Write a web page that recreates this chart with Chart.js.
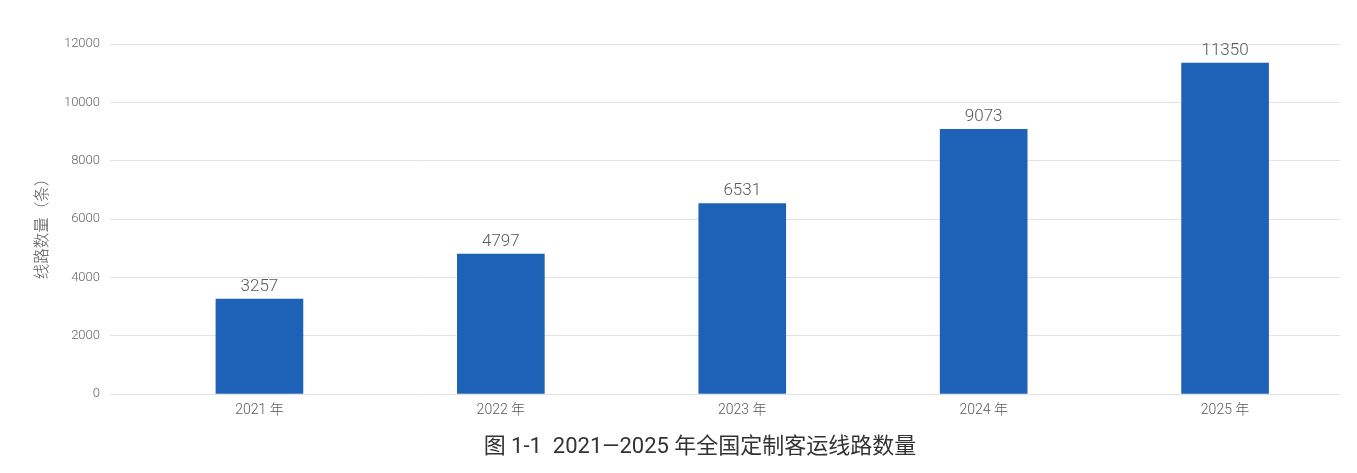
<!DOCTYPE html>
<html>
<head>
<meta charset="utf-8">
<script src="https://cdn.jsdelivr.net/npm/chart.js@4/dist/chart.umd.min.js"></script>
<style>
  html, body { margin: 0; padding: 0; background: #ffffff; }
  canvas { display: block; }
</style>
</head>
<body>
<canvas id="c" width="1357" height="473"></canvas>
<script>
const categories = ['2021 年', '2022 年', '2023 年', '2024 年', '2025 年'];
const routeCounts = [3257, 4797, 6531, 9073, 11350];
const yTickValues = [0, 2000, 4000, 6000, 8000, 10000, 12000];
const yAxisTitle = '线路数量（条）';
const chartTitle = '图 1-1  2021—2025 年全国定制客运线路数量';

const FONT = 'Roboto, "Noto Sans CJK SC", "Noto Sans", sans-serif';
const CJK = '"Noto Sans CJK SC", sans-serif';

const valueLabels = {
  id: 'valueLabels',
  afterDatasetsDraw(chart) {
    const ctx = chart.ctx;
    const meta = chart.getDatasetMeta(0);
    ctx.save();
    ctx.font = '300 17px ' + FONT;
    ctx.fillStyle = '#595959';
    ctx.textAlign = 'center';
    ctx.textBaseline = 'bottom';
    meta.data.forEach((bar, i) => {
      ctx.fillText(String(routeCounts[i]), bar.x, bar.y - 4);
    });
    ctx.restore();
  }
};

const texts = {
  id: 'texts',
  afterDraw(chart) {
    const ctx = chart.ctx;
    ctx.save();
    // bottom caption
    ctx.font = '400 22px ' + FONT;
    ctx.fillStyle = '#333333';
    ctx.textAlign = 'center';
    ctx.textBaseline = 'middle';
    ctx.fillText(chartTitle, 700, 447);
    // y-axis title
    ctx.translate(41, 225);
    ctx.rotate(-Math.PI / 2);
    ctx.font = '300 15.5px ' + CJK;
    ctx.fillStyle = '#595959';
    ctx.fillText(yAxisTitle, 0, 0);
    ctx.restore();
  }
};

new Chart(document.getElementById('c'), {
  type: 'bar',
  data: {
    datasets: [{
      data: routeCounts.map((v, i) => ({ x: i, y: v })),
      backgroundColor: '#1d62b6',
      borderWidth: 0,
      barThickness: 87
    }]
  },
  options: {
    responsive: false,
    animation: false,
    layout: { padding: { top: 44, right: 17, left: 0, bottom: 0 } },
    plugins: {
      legend: { display: false },
      tooltip: { enabled: false },
      title: { display: false }
    },
    scales: {
      x: {
        type: 'linear',
        offset: false,
        min: -0.619,
        max: 4.476,
        grid: { display: false, drawTicks: false },
        border: { display: false },
        afterFit(scale) { scale.height = 79; },
        afterBuildTicks(scale) {
          scale.ticks = categories.map((c, i) => ({ value: i }));
        },
        ticks: {
          autoSkip: false,
          maxRotation: 0,
          padding: 8,
          color: '#595959',
          font: { family: FONT, size: 14, weight: '300' },
          callback: (v) => categories[v] !== undefined ? categories[v] : ''
        }
      },
      y: {
        min: 0,
        max: 12000,
        afterFit(scale) { scale.width = 110; },
        afterBuildTicks(scale) {
          scale.ticks = yTickValues.map(v => ({ value: v }));
        },
        grid: { color: '#e2e2e2', lineWidth: 1, drawTicks: false },
        border: { display: false },
        ticks: {
          padding: 10,
          color: '#666666',
          font: { family: FONT, size: 13, weight: '300' },
          callback: (v) => String(v)
        },
        title: { display: false }
      }
    }
  },
  plugins: [valueLabels, texts]
});
</script>
</body>
</html>
